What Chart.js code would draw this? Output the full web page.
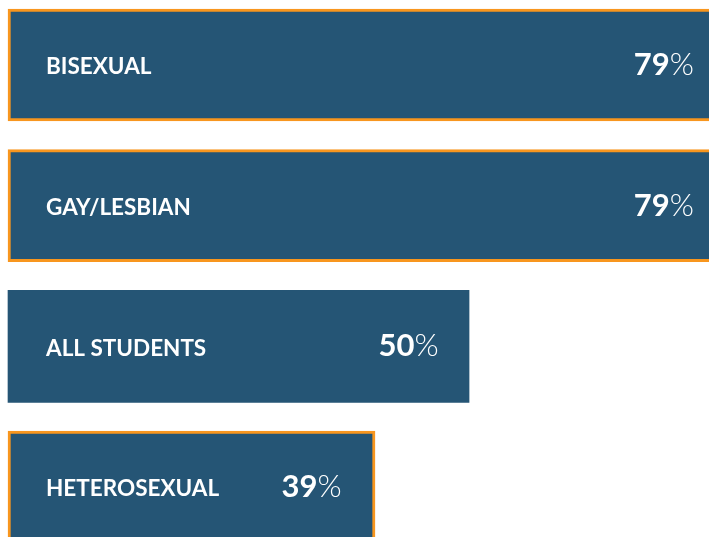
<!DOCTYPE html>
<html>
<head>
<meta charset="utf-8">
<script src="https://cdn.jsdelivr.net/npm/chart.js@4/dist/chart.umd.min.js"></script>
<style>
html,body{margin:0;padding:0;background:#ffffff;}
#c{display:block;}
</style>
</head>
<body>
<canvas id="c" width="709" height="537"></canvas>
<script>
const categories = ["BISEXUAL", "GAY/LESBIAN", "ALL STUDENTS", "HETEROSEXUAL"];
const values = [79, 79, 50, 39];
const highlighted = [true, true, false, true];

const BAR = "#255575";
const ORANGE = "#F8961E";
const AXIS_START = -3.95;
const AXIS_END = 78.08;

const labelPlugin = {
  id: "barLabels",
  afterDatasetsDraw(chart) {
    const ctx = chart.ctx;
    const area = chart.chartArea;
    const meta = chart.getDatasetMeta(0);
    ctx.save();
    ctx.fillStyle = "#ffffff";
    meta.data.forEach((bar, i) => {
      const y = bar.y;
      ctx.textBaseline = "middle";
      ctx.textAlign = "left";
      ctx.font = "bold 22.5px Lato";
      ctx.fillText(categories[i], area.left + 38, y + 2);
      const right = area.left + 1.03 * (bar.x - area.left) - 44.3;
      ctx.textAlign = "right";
      ctx.font = "300 31px Lato";
      const pw = ctx.measureText("%").width;
      ctx.fillText("%", right, y);
      ctx.font = "bold 31px Lato";
      ctx.fillText(String(values[i]), right - pw, y);
    });
    ctx.restore();
  }
};

new Chart(document.getElementById("c"), {
  type: "bar",
  data: {
    labels: categories,
    datasets: [{
      data: values,
      base: AXIS_START,
      backgroundColor: BAR,
      borderColor: ORANGE,
      borderWidth: highlighted.map(h => h ? 3 : 0),
      borderSkipped: false,
      barThickness: 112,
      clip: false
    }]
  },
  options: {
    indexAxis: "y",
    responsive: false,
    animation: false,
    events: [],
    layout: { padding: { left: 8, right: 0, top: 65, bottom: 50 } },
    plugins: { legend: { display: false }, tooltip: { enabled: false } },
    scales: {
      x: { display: false, min: AXIS_START, max: AXIS_END },
      y: { display: false, offset: false }
    }
  },
  plugins: [labelPlugin]
});
</script>
</body>
</html>
